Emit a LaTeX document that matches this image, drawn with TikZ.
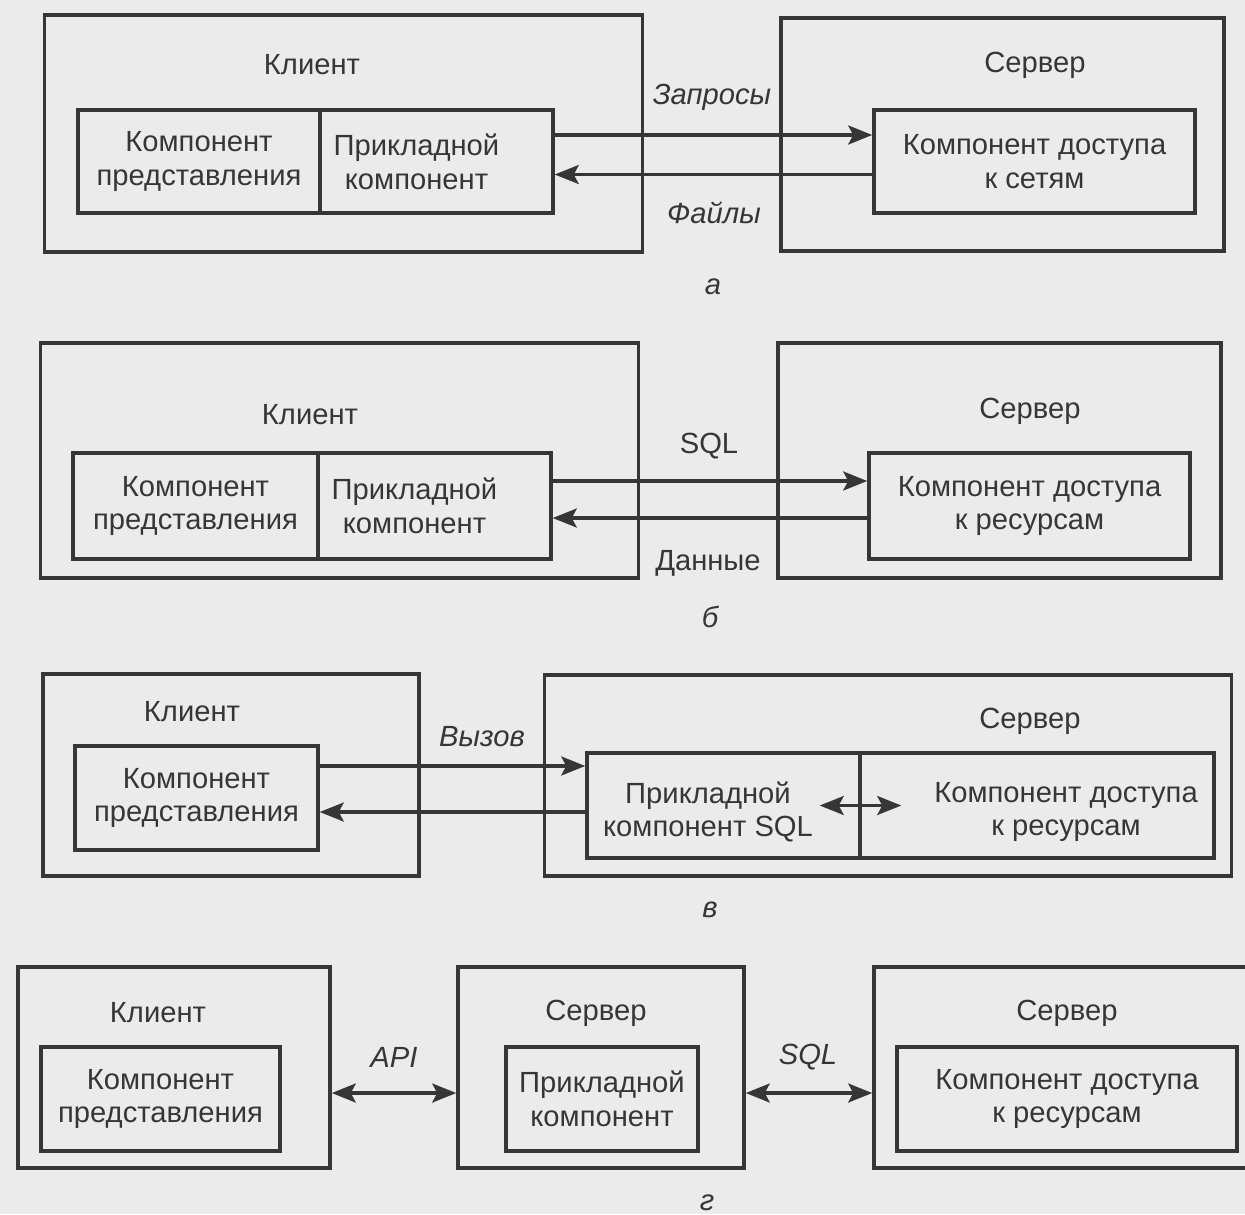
\documentclass[tikz,border=0pt]{standalone}
\usepackage{fontspec}
\setmainfont{Liberation Sans}
\usetikzlibrary{arrows.meta}
\definecolor{inkgray}{HTML}{363636}
\definecolor{paper}{HTML}{EBEBEB}

\begin{document}
\begin{tikzpicture}[x=0.01cm, y=-0.01cm,
  >={Stealth[length=2.4mm, width=1.9mm, inset=0.5mm]},
  every node/.style={font=\fontsize{8.3}{9.6}\selectfont, text=inkgray, align=center},
  box/.style={draw=inkgray, line width=0.95pt, inner sep=0pt},
  lbl/.style={inner sep=1pt},
  ilbl/.style={inner sep=1pt, font=\fontsize{8.3}{9.6}\selectfont\itshape},
  flow/.style={draw=inkgray, line width=0.9pt}]
  \fill[paper] (0,0) rectangle (1245,1214);
  \useasboundingbox (0,0) rectangle (1245,1214);
  \clip (0,0) rectangle (1245,1214);

  % a
  \node[box, minimum width=5.97cm, minimum height=2.37cm] (cliA) at (343.5,133.5) {};
  \node[box, minimum width=2.42cm, minimum height=1.03cm] (prsA) at (199,161.5) {Компонент\\представления};
  \node[box, minimum width=2.33cm, minimum height=1.03cm] (appA) at (436.5,161.5) {};
  \node (tAppA) at ([xshift=-.2cm]appA.center) {Прикладной\\компонент};
  \node[box, minimum width=4.43cm, minimum height=2.33cm] (srvA) at (1002.5,134.5) {};
  \node[box, minimum width=3.21cm, minimum height=1.03cm] (accA) at (1034.5,161.5) {Компонент доступа\\к сетям};
  \node[lbl] (kliA) at (312,65) {Клиент};
  \node[lbl] (serA) at (1035,65) {Сервер};
  \node[ilbl] (reqA) at (712,97) {Запросы};
  \node[ilbl] (filA) at (714,213) {Файлы};
  \node[ilbl] (capA) at (713,287) {а};
  \coordinate (upA) at ([yshift=.265cm]appA.east);
  \coordinate (dnA) at ([yshift=-.13cm]accA.west);
  \draw[flow, ->] (upA) -- (upA -| accA.west);
  \draw[flow, ->] (dnA) -- (dnA -| appA.east);

  % b
  \node[box, minimum width=5.97cm, minimum height=2.35cm] (cliB) at (339.5,460.5) {};
  \node[box, minimum width=2.45cm, minimum height=1.06cm] (prsB) at (195.5,506) {Компонент\\представления};
  \node[box, minimum width=2.33cm, minimum height=1.06cm] (appB) at (434.5,506) {};
  \node (tAppB) at ([xshift=-.2cm]appB.center) {Прикладной\\компонент};
  \node[box, minimum width=4.43cm, minimum height=2.35cm] (srvB) at (999.5,460.5) {};
  \node[box, minimum width=3.21cm, minimum height=1.06cm] (accB) at (1029.5,506) {Компонент доступа\\к ресурсам};
  \node[lbl] (kliB) at (310,415) {Клиент};
  \node[lbl] (serB) at (1030,411) {Сервер};
  \node[lbl] (sqlB) at (709,446) {SQL};
  \node[lbl] (datB) at (708,563) {Данные};
  \node[ilbl] (capB) at (710,617) {б};
  \coordinate (upB) at ([yshift=.25cm]appB.east);
  \coordinate (dnB) at ([yshift=-.12cm]accB.west);
  \draw[flow, ->] (upB) -- (upB -| accB.west);
  \draw[flow, ->] (dnB) -- (dnB -| appB.east);

  % v
  \node[box, minimum width=3.76cm, minimum height=2.02cm] (cliV) at (231,775) {};
  \node[box, minimum width=2.43cm, minimum height=1.04cm] (prsV) at (196.5,798) {Компонент\\представления};
  \node[box, minimum width=6.86cm, minimum height=2.01cm] (srvV) at (888,775.5) {};
  \node[box, minimum width=2.73cm, minimum height=1.05cm] (appV) at (723.5,805.5) {};
  \node[box, minimum width=3.54cm, minimum height=1.05cm] (accV) at (1037,805.5) {};
  \node (tAppV) at (708,812) {Прикладной\\компонент SQL};
  \node (tAccV) at (1066,812) {Компонент доступа\\к ресурсам};
  \node[lbl] (kliV) at (192,712) {Клиент};
  \node[lbl] (serV) at (1030,721) {Сервер};
  \node[ilbl] (calV) at (482,737) {Вызов};
  \node[ilbl] (capV) at (710,910) {в};
  \coordinate (upV) at ([yshift=.32cm]prsV.east);
  \coordinate (dnV) at ([yshift=-.14cm]prsV.east);
  \draw[flow, ->] (upV) -- (upV -| appV.west);
  \draw[flow, <-] (dnV) -- (dnV -| appV.west);
  \draw[flow, <->] ([xshift=-.42cm]appV.east) -- ([xshift=.43cm]accV.west);

  % g
  \node[box, minimum width=3.12cm, minimum height=2.01cm] (cliG) at (174,1067.5) {};
  \node[box, minimum width=2.39cm, minimum height=1.04cm] (prsG) at (160.5,1099) {Компонент\\представления};
  \node[box, minimum width=2.86cm, minimum height=2.01cm] (srvG) at (601,1067.5) {};
  \node[box, minimum width=1.92cm, minimum height=1.04cm] (appG) at (602,1099) {Прикладной\\компонент};
  \node[box, minimum width=3.74cm, minimum height=2.01cm] (dbsG) at (1061,1067.5) {};
  \node[box, minimum width=3.40cm, minimum height=1.04cm] (accG) at (1067,1099) {Компонент доступа\\к ресурсам};
  \node[lbl] (kliG) at (158,1013) {Клиент};
  \node[lbl] (serG) at (596,1013) {Сервер};
  \node[lbl] (dbtG) at (1067,1013) {Сервер};
  \node[ilbl] (apiG) at (394,1057) {API};
  \node[ilbl] (sqlG) at (808,1057) {SQL};
  \node[ilbl] (capG) at (707,1203) {г};
  \coordinate (lnG) at ([yshift=-.255cm]cliG.east);
  \coordinate (rnG) at ([yshift=-.255cm]srvG.east);
  \draw[flow, <->] (lnG) -- (lnG -| srvG.west);
  \draw[flow, <->] (rnG) -- (rnG -| dbsG.west);
\end{tikzpicture}
\end{document}
